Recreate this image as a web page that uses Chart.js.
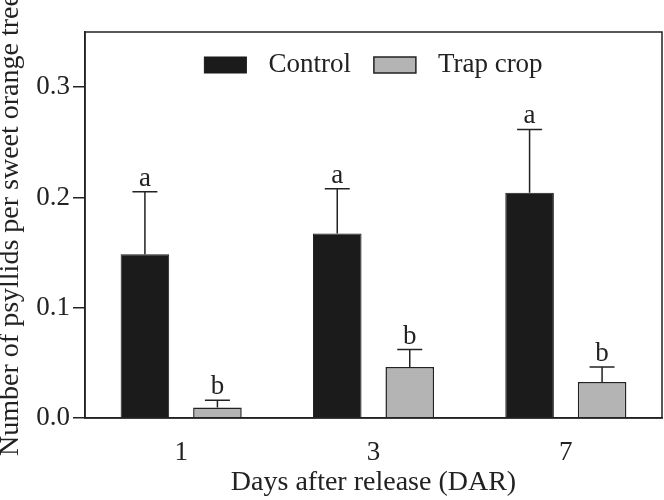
<!DOCTYPE html>
<html>
<head>
<meta charset="utf-8">
<script src="https://cdn.jsdelivr.net/npm/chart.js@4/dist/chart.umd.min.js"></script>
<style>
  html, body { margin: 0; padding: 0; background: #fff; }
  #wrap { width: 664px; height: 500px; }
</style>
</head>
<body>
<div id="wrap"><canvas id="chart" width="664" height="500"></canvas></div>
<script>
// ===== Data =====
const days = ['1', '3', '7'];
const controlMeans = [0.1485, 0.1672, 0.2042];
const controlErrors = [0.0566, 0.0406, 0.0574];
const trapMeans = [0.0096, 0.0463, 0.0327];
const trapErrors = [0.0064, 0.0157, 0.0136];
const controlLetters = ['a', 'a', 'a'];
const trapLetters = ['b', 'b', 'b'];
const yTicks = [0, 0.1, 0.2, 0.3];

const ink = '#222';
const serif = '"Liberation Serif", "Times New Roman", serif';

// error bars + significance letters, drawn from the bar elements
const errorBarPlugin = {
  id: 'errorBars',
  afterDatasetsDraw(chart) {
    const ctx = chart.ctx;
    const y = chart.scales.y;
    const errs = [controlErrors, trapErrors];
    const letters = [controlLetters, trapLetters];
    ctx.save();
    ctx.strokeStyle = ink;
    ctx.lineWidth = 1.5;
    ctx.fillStyle = ink;
    ctx.font = '27px ' + serif;
    ctx.textAlign = 'center';
    ctx.textBaseline = 'alphabetic';
    chart.data.datasets.forEach((ds, i) => {
      const meta = chart.getDatasetMeta(i);
      meta.data.forEach((bar, j) => {
        const top = y.getPixelForValue(ds.data[j]);
        const capY = y.getPixelForValue(ds.data[j] + errs[i][j]);
        ctx.beginPath();
        ctx.moveTo(bar.x, top);
        ctx.lineTo(bar.x, capY);
        ctx.moveTo(bar.x - 12.5, capY);
        ctx.lineTo(bar.x + 12.5, capY);
        ctx.stroke();
        ctx.fillText(letters[i][j], bar.x, capY - 6);
      });
    });
    ctx.restore();
  }
};

// legend sitting inside the top of the plot, one row
const insideLegend = {
  id: 'insideLegend',
  afterDraw(chart) {
    const ctx = chart.ctx;
    const a = chart.chartArea;
    const boxW = 42, boxH = 16, gap = 22, spacing = 23;
    ctx.save();
    ctx.font = '27px ' + serif;
    const items = chart.data.datasets.map(ds => ({
      ds, w: boxW + gap + ctx.measureText(ds.label).width
    }));
    const total = items.reduce((s, it) => s + it.w, 0) + spacing * (items.length - 1);
    let x = (a.left + a.right) / 2 - total / 2;
    const midY = a.top + 33;
    items.forEach(({ ds, w }) => {
      ctx.fillStyle = ds.backgroundColor;
      ctx.fillRect(x, midY - boxH / 2, boxW, boxH);
      ctx.strokeStyle = ds.borderColor;
      ctx.lineWidth = ds.borderWidth;
      ctx.strokeRect(x, midY - boxH / 2, boxW, boxH);
      ctx.fillStyle = ink;
      ctx.textAlign = 'left';
      ctx.textBaseline = 'middle';
      ctx.fillText(ds.label, x + boxW + gap, midY);
      x += w + spacing;
    });
    ctx.restore();
  }
};

// box round the plot area
const framePlugin = {
  id: 'frame',
  afterDraw(chart) {
    const a = chart.chartArea;
    const ctx = chart.ctx;
    ctx.save();
    ctx.strokeStyle = ink;
    ctx.lineWidth = 1.5;
    ctx.strokeRect(a.left, a.top, a.right - a.left, a.bottom - a.top);
    ctx.restore();
  }
};

new Chart(document.getElementById('chart').getContext('2d'), {
  type: 'bar',
  data: {
    labels: days,
    datasets: [
      {
        label: 'Control',
        data: controlMeans,
        backgroundColor: '#1b1b1b',
        borderColor: '#1b1b1b',
        borderWidth: 1
      },
      {
        label: 'Trap crop',
        data: trapMeans,
        backgroundColor: '#b4b4b4',
        borderColor: ink,
        borderWidth: 1.5
      }
    ]
  },
  options: {
    responsive: false,
    animation: false,
    categoryPercentage: 0.754,
    barPercentage: 0.67,
    layout: { padding: { top: 32, right: 2, left: 0, bottom: 0 } },
    plugins: {
      legend: { display: false },
      tooltip: { enabled: false }
    },
    scales: {
      x: {
        grid: { display: false },
        border: { display: true, color: ink, width: 1.5 },
        ticks: {
          color: ink,
          padding: 11,
          font: { family: serif, size: 27 }
        },
        title: {
          display: true,
          text: 'Days after release (DAR)',
          color: ink,
          font: { family: serif, size: 28, lineHeight: 1 },
          padding: { top: 0, bottom: 3 }
        },
        afterFit: (axis) => { axis.height = 82; }
      },
      y: {
        min: 0,
        max: 0.35,
        afterBuildTicks: (axis) => { axis.ticks = yTicks.map(v => ({ value: v })); },
        grid: {
          drawOnChartArea: false,
          drawTicks: true,
          tickLength: 12,
          color: ink,
          lineWidth: 1.5
        },
        border: { display: true, color: ink, width: 1.5 },
        ticks: {
          color: ink,
          padding: 3,
          font: { family: serif, size: 27 },
          callback: (v) => Number(v).toFixed(1)
        },
        title: {
          display: true,
          text: 'Number of psyllids per sweet orange tree',
          color: ink,
          font: { family: serif, size: 28, lineHeight: 1 },
          padding: { top: -3, bottom: 0 }
        },
        afterFit: (axis) => { axis.width = 85; }
      }
    }
  },
  plugins: [errorBarPlugin, insideLegend, framePlugin]
});
</script>
</body>
</html>
